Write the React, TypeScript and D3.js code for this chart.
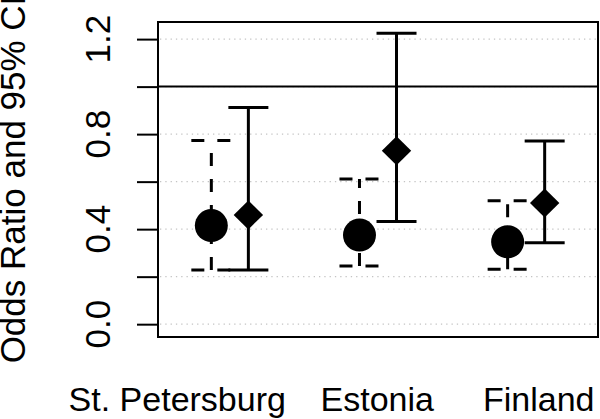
import React, { useEffect, useRef } from "react";
import * as d3 from "d3";

// groups and where their labels sit on the x axis (data units)
const categories = ["St. Petersburg", "Estonia", "Finland"];
const labelAt = [0.77, 2.12, 3.21];
const circleX = [1, 2, 3];
const diamondX = [1.25, 2.25, 3.25];

// circle series (dashed CI)
const circleOR = [0.415, 0.375, 0.347];
const circleLower = [0.228, 0.245, 0.231];
const circleUpper = [0.773, 0.611, 0.52];

// diamond series (solid CI)
const diamondOR = [0.46, 0.73, 0.51];
const diamondLower = [0.228, 0.432, 0.343];
const diamondUpper = [0.912, 1.225, 0.771];

const yTicks = [0, 0.2, 0.4, 0.6, 0.8, 1.0, 1.2];
const yTickLabels = ["0.0", "0.4", "0.8", "1.2"];

const W = 600;
const H = 419;
const FONT = "'Liberation Sans', Arial, Helvetica, sans-serif";

const App = () => {
  const ref = useRef<SVGSVGElement | null>(null);

  useEffect(() => {
    const svg = d3.select(ref.current);
    svg.selectAll("*").remove();

    const box = { left: 158, right: 598, top: 22, bottom: 337 };
    const x = d3.scaleLinear().domain([0.64, 3.61]).range([box.left, box.right]);
    const y = d3.scaleLinear().domain([-0.054, 1.272]).range([box.bottom, box.top]);

    // dotted grid
    svg
      .append("g")
      .selectAll("line")
      .data(yTicks)
      .join("line")
      .attr("x1", box.left + 2)
      .attr("x2", box.right - 2)
      .attr("y1", (d) => y(d))
      .attr("y2", (d) => y(d))
      .attr("stroke", "#c4c4c4")
      .attr("stroke-width", 1.2)
      .attr("stroke-dasharray", "1.3,4");

    // reference line at OR = 1
    svg
      .append("line")
      .attr("x1", box.left)
      .attr("x2", box.right)
      .attr("y1", y(1))
      .attr("y2", y(1))
      .attr("stroke", "black")
      .attr("stroke-width", 2);

    // y axis
    const yAxis = svg
      .append("g")
      .attr("transform", `translate(${box.left},0)`)
      .call(d3.axisLeft(y).tickValues(yTicks).tickSize(21).tickFormat(() => ""));
    yAxis.select(".domain").remove();
    yAxis.selectAll("line").attr("stroke", "black").attr("stroke-width", 2);

    svg
      .append("g")
      .selectAll("text")
      .data(yTickLabels)
      .join("text")
      .attr("transform", (d) => `translate(110,${y(+d)}) rotate(-90)`)
      .attr("text-anchor", "middle")
      .style("font-family", FONT)
      .style("font-size", "35px")
      .text((d) => d);

    svg
      .append("text")
      .attr("transform", `translate(25,${(box.top + box.bottom) / 2}) rotate(-90)`)
      .attr("text-anchor", "middle")
      .style("font-family", FONT)
      .style("font-size", "35px")
      .text("Odds Ratio and 95% CI");

    // x labels
    svg
      .append("g")
      .selectAll("text")
      .data(categories)
      .join("text")
      .attr("x", (d, i) => x(labelAt[i]))
      .attr("y", 411)
      .attr("text-anchor", "middle")
      .style("font-family", FONT)
      .style("font-size", "34px")
      .text((d) => d);

    const cap = 20;
    const drawCI = (xs, lo, hi, dash) => {
      const g = svg.append("g").attr("stroke", "black").attr("stroke-width", 3).attr("fill", "none");
      xs.forEach((xv, i) => {
        const cx = x(xv);
        const l = g.append("g");
        l.append("line")
          .attr("x1", cx)
          .attr("x2", cx)
          .attr("y1", y(lo[i]))
          .attr("y2", y(hi[i]));
        [lo[i], hi[i]].forEach((v) => {
          l.append("line")
            .attr("x1", cx - cap)
            .attr("x2", cx + cap)
            .attr("y1", y(v))
            .attr("y2", y(v));
        });
        if (dash) l.selectAll("line").attr("stroke-dasharray", dash);
      });
    };

    drawCI(circleX, circleLower, circleUpper, "13,13");
    drawCI(diamondX, diamondLower, diamondUpper, null);

    svg
      .append("g")
      .selectAll("circle")
      .data(circleOR)
      .join("circle")
      .attr("cx", (d, i) => x(circleX[i]))
      .attr("cy", (d) => y(d))
      .attr("r", 16.5)
      .attr("fill", "black");

    svg
      .append("g")
      .selectAll("path")
      .data(diamondOR)
      .join("path")
      .attr("d", (d, i) => {
        const cx = x(diamondX[i]);
        const cy = y(d);
        return `M${cx},${cy - 14.5}L${cx + 14.7},${cy}L${cx},${cy + 14.5}L${cx - 14.7},${cy}Z`;
      })
      .attr("fill", "black");

    // plot box
    svg
      .append("rect")
      .attr("x", box.left)
      .attr("y", box.top)
      .attr("width", box.right - box.left)
      .attr("height", box.bottom - box.top)
      .attr("fill", "none")
      .attr("stroke", "black")
      .attr("stroke-width", 2);
  }, []);

  return (
    <svg
      ref={ref}
      width={W}
      height={H}
      style={{ position: "absolute", left: 0, top: 0, background: "white" }}
    ></svg>
  );
};

export default App;
